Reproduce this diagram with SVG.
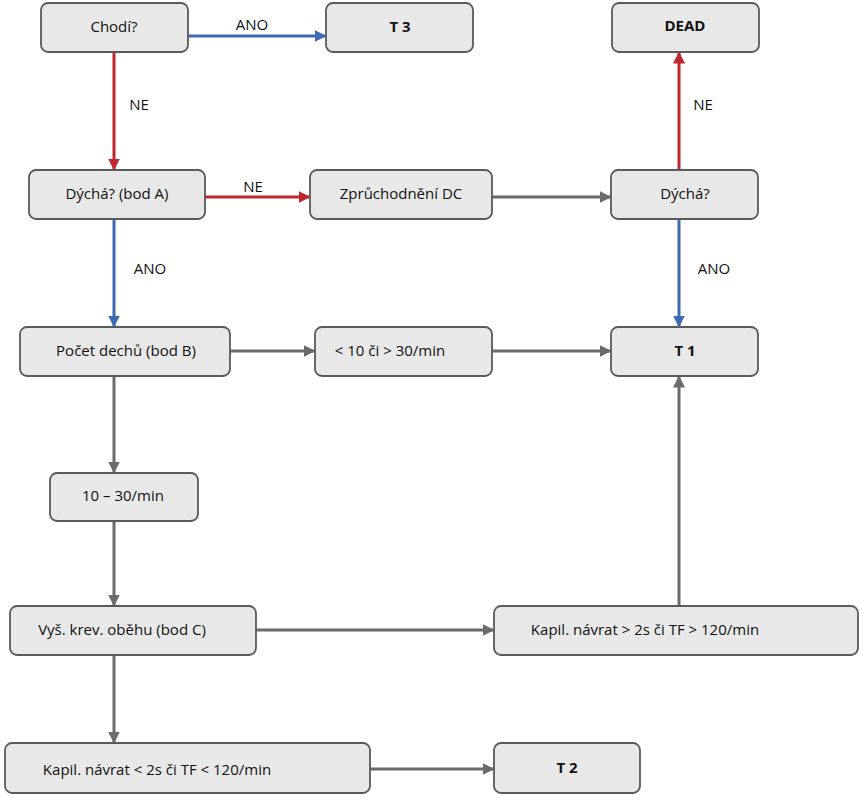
<svg xmlns="http://www.w3.org/2000/svg" width="865" height="800" viewBox="0 0 865 800">
<style>
.n rect{fill:#e8e8e8;stroke:#5a5a5a;stroke-width:1.8}
text{font-family:"Open Sans","Noto Sans",sans-serif;font-size:15px;fill:#111;dominant-baseline:central}
.c{text-anchor:middle}
.b{font-weight:bold}
.g{stroke:#6b6b6b;stroke-width:3;fill:none}
.bl{stroke:#3d6bb3;stroke-width:3;fill:none}
.r{stroke:#c0262d;stroke-width:3;fill:none}
</style>
<defs>
<marker id="ag" markerWidth="4" markerHeight="4" refX="3.5" refY="2" orient="auto"><path d="M0,0L4,2L0,4z" fill="#6b6b6b"/></marker>
<marker id="ab" markerWidth="4" markerHeight="4" refX="3.5" refY="2" orient="auto"><path d="M0,0L4,2L0,4z" fill="#3d6bb3"/></marker>
<marker id="ar" markerWidth="4" markerHeight="4" refX="3.5" refY="2" orient="auto"><path d="M0,0L4,2L0,4z" fill="#c0262d"/></marker>
</defs>
<g id="connectors">
<path class="bl" d="M188,36H325" marker-end="url(#ab)"/>
<path class="r" d="M114,52V169" marker-end="url(#ar)"/>
<path class="r" d="M205,197H309" marker-end="url(#ar)"/>
<path class="g" d="M492,197H610" marker-end="url(#ag)"/>
<path class="r" d="M679,170V53" marker-end="url(#ar)"/>
<path class="bl" d="M114,219V326" marker-end="url(#ab)"/>
<path class="bl" d="M679,219V326" marker-end="url(#ab)"/>
<path class="g" d="M230,351H314" marker-end="url(#ag)"/>
<path class="g" d="M492,351H610" marker-end="url(#ag)"/>
<path class="g" d="M114,376V472" marker-end="url(#ag)"/>
<path class="g" d="M114,521V605" marker-end="url(#ag)"/>
<path class="g" d="M256,630H493" marker-end="url(#ag)"/>
<path class="g" d="M679,606V377" marker-end="url(#ag)"/>
<path class="g" d="M114,655V742" marker-end="url(#ag)"/>
<path class="g" d="M370,769H493" marker-end="url(#ag)"/>
<text x="252" y="24" class="c">ANO</text>
<text x="139" y="104" class="c">NE</text>
<text x="253" y="186" class="c">NE</text>
<text x="703" y="104" class="c">NE</text>
<text x="150" y="268" class="c">ANO</text>
<text x="714" y="268" class="c">ANO</text>
</g>
<g id="chodi" class="n"><rect x="41" y="3" width="147" height="49" rx="7"/><text x="114" y="26" class="c">Chodí?</text></g>
<g id="t3" class="n"><rect x="326" y="3" width="147" height="49" rx="7"/><text x="400" y="26" class="c b">T 3</text></g>
<g id="dead" class="n"><rect x="612" y="3" width="147" height="49" rx="7"/><text x="685" y="25" class="c b">DEAD</text></g>
<g id="dychaA" class="n"><rect x="29" y="170" width="176" height="49" rx="7"/><text x="117" y="193" class="c">Dýchá? (bod A)</text></g>
<g id="zpr" class="n"><rect x="310" y="170" width="182" height="49" rx="7"/><text x="401" y="193" class="c">Zprůchodnění DC</text></g>
<g id="dycha" class="n"><rect x="611" y="170" width="147" height="49" rx="7"/><text x="685" y="193" class="c">Dýchá?</text></g>
<g id="pocet" class="n"><rect x="20" y="327" width="210" height="49" rx="7"/><text x="126" y="350" class="c">Počet dechů (bod B)</text></g>
<g id="mimo" class="n"><rect x="315" y="327" width="177" height="49" rx="7"/><text x="390" y="350" class="c">&lt; 10 či &gt; 30/min</text></g>
<g id="t1" class="n"><rect x="611" y="327" width="147" height="49" rx="7"/><text x="685" y="350" class="c b">T 1</text></g>
<g id="range" class="n"><rect x="50" y="473" width="148" height="48" rx="7"/><text x="123" y="495" class="c">10 – 30/min</text></g>
<g id="vys" class="n"><rect x="10" y="606" width="246" height="49" rx="7"/><text x="122" y="629" class="c">Vyš. krev. oběhu (bod C)</text></g>
<g id="kapilA" class="n"><rect x="494" y="606" width="364" height="49" rx="7"/><text x="645" y="629" class="c">Kapil. návrat &gt; 2s či TF &gt; 120/min</text></g>
<g id="kapilB" class="n"><rect x="5" y="743" width="365" height="50" rx="7"/><text x="157" y="769" class="c">Kapil. návrat &lt; 2s či TF &lt; 120/min</text></g>
<g id="t2" class="n"><rect x="494" y="743" width="146" height="50" rx="7"/><text x="567" y="767" class="c b">T 2</text></g>
</svg>
